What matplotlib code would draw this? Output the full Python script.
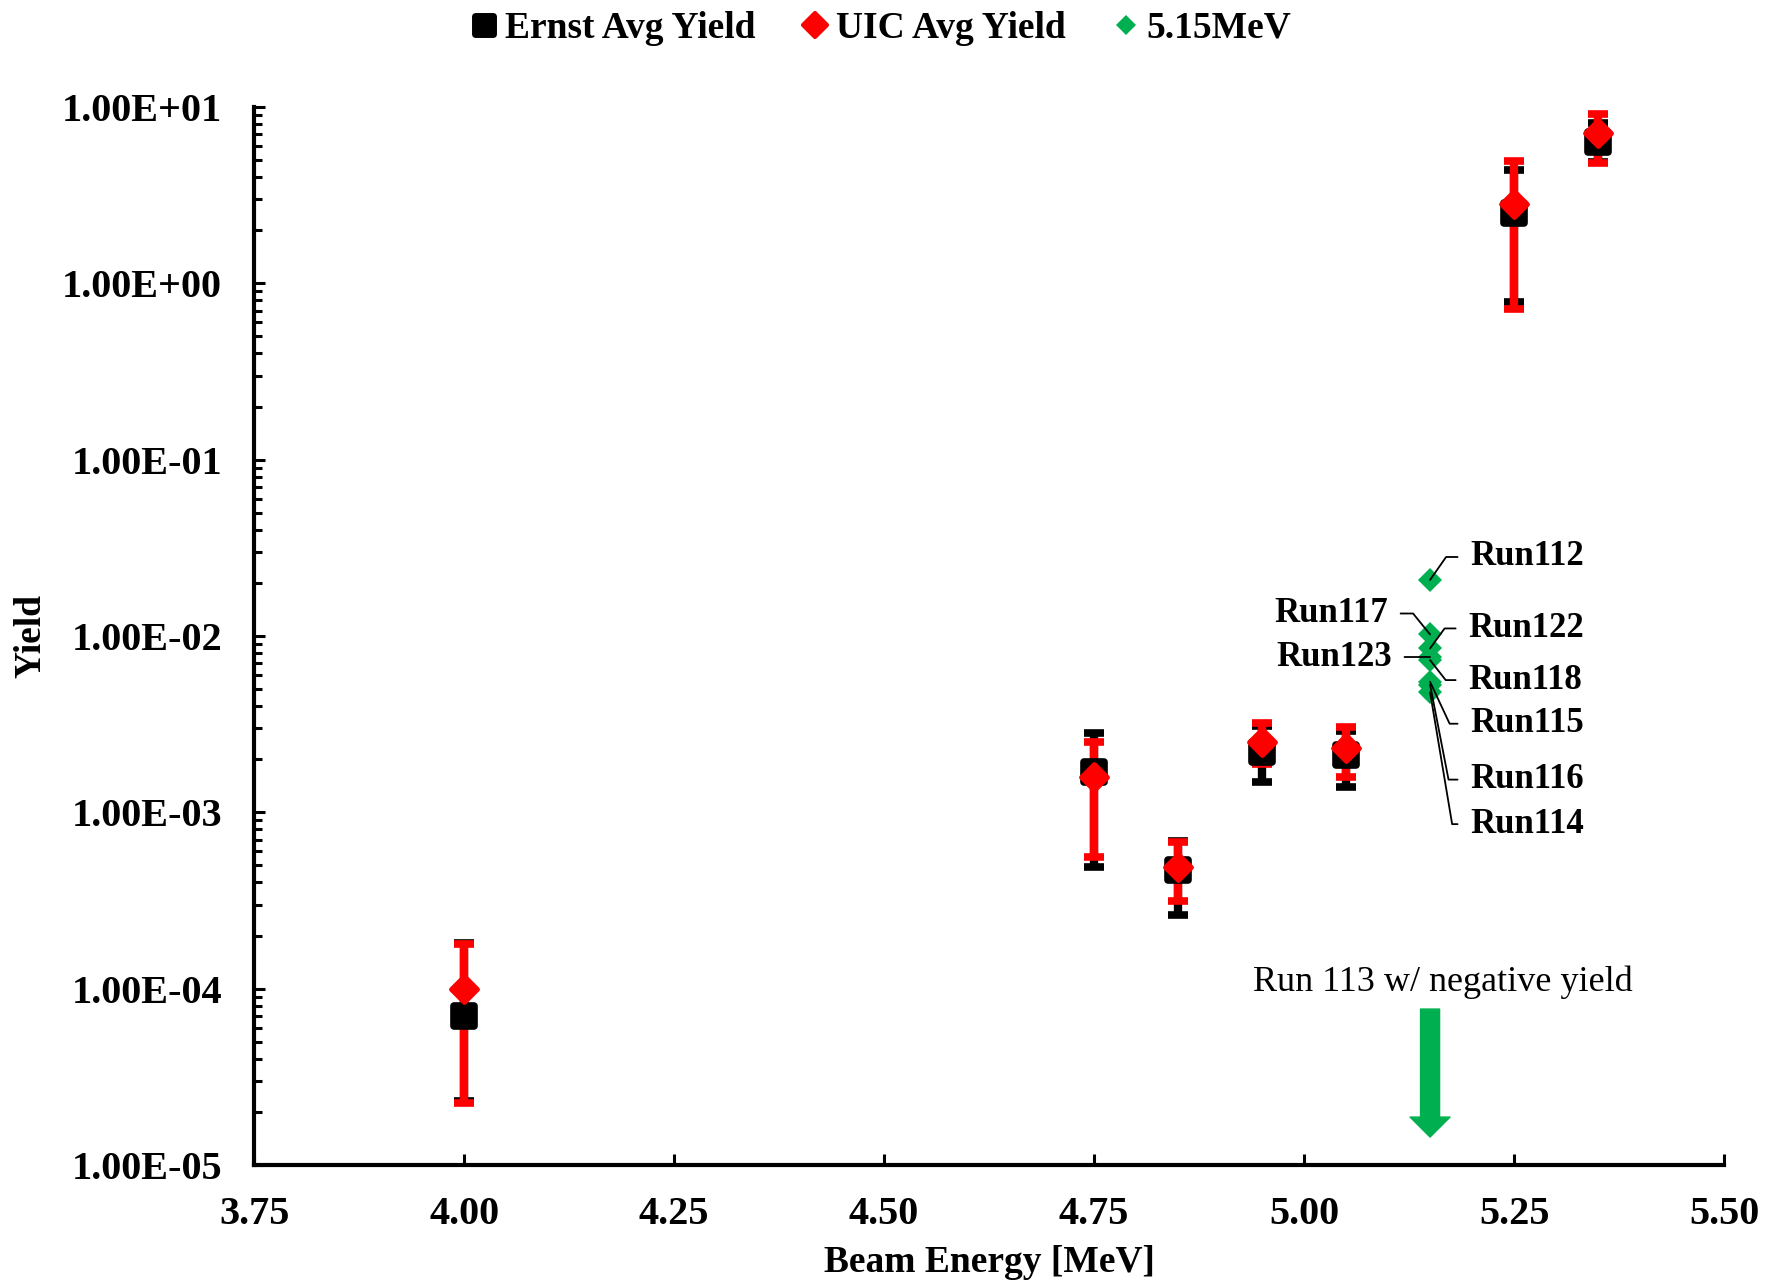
import numpy as np
import matplotlib
matplotlib.use("Agg")
import matplotlib.pyplot as plt
from matplotlib.lines import Line2D
from matplotlib.markers import MarkerStyle
from matplotlib.ticker import LogLocator, FuncFormatter, NullFormatter, MultipleLocator

plt.rcParams["font.family"] = ["Liberation Serif", "DejaVu Serif"]
plt.rcParams["font.weight"] = "bold"

# beam energies [MeV]
energy = [4.00, 4.75, 4.85, 4.95, 5.05, 5.25, 5.35]

# Ernst average yield with error bar ends
ernst = [7.0e-5, 1.69e-3, 4.7e-4, 2.19e-3, 2.11e-3, 2.51, 6.33]
ernst_hi = [1.82e-4, 2.81e-3, 6.9e-4, 3.1e-3, 2.9e-3, 4.4, 8.1]
ernst_lo = [2.3e-5, 4.89e-4, 2.61e-4, 1.48e-3, 1.39e-3, 0.78, 4.85]

# UIC average yield with error bar ends
uic = [1.0e-4, 1.58e-3, 4.89e-4, 2.5e-3, 2.31e-3, 2.82, 7.13]
uic_hi = [1.79e-4, 2.5e-3, 6.78e-4, 3.2e-3, 3.04e-3, 4.94, 9.13]
uic_lo = [2.24e-5, 5.57e-4, 3.13e-4, 1.87e-3, 1.58e-3, 0.714, 4.8]

# individual runs at 5.15 MeV
run_energy = 5.15
run_names = ["Run112", "Run117", "Run122", "Run123", "Run118", "Run115", "Run116", "Run114"]
run_yield = [2.08e-2, 1.02e-2, 8.5e-3, 7.6e-3, 7.3e-3, 5.5e-3, 5.3e-3, 4.8e-3]

BLACK = "#000000"
RED = "#FF0000"
GREEN = "#00B050"

fig = plt.figure(figsize=(17.73, 12.86), dpi=100)
ax = fig.add_axes([0.1433, 0.0941, 0.8291, 0.8227])


def err(vals, lo, hi):
    v = np.array(vals)
    return np.vstack([v - np.array(lo), np.array(hi) - v])


# capsize is half the cap length in matplotlib
eb_kw = dict(fmt="none", elinewidth=6, capsize=7.4, capthick=5.5, zorder=2)
ax.errorbar(energy, ernst, yerr=err(ernst, ernst_lo, ernst_hi), ecolor=BLACK, **eb_kw)
ax.errorbar(energy, uic, yerr=err(uic, uic_lo, uic_hi), ecolor=RED, **eb_kw)

sq = MarkerStyle("s", joinstyle="round")
dm = MarkerStyle("D", joinstyle="round")
ax.plot(energy, ernst, ls="none", marker=sq, ms=14, mfc=BLACK, mec=BLACK, mew=5.5, zorder=3)
ax.plot(energy, uic, ls="none", marker=dm, ms=13, mfc=RED, mec=RED, mew=3.5, zorder=4)
ax.plot([run_energy] * len(run_yield), run_yield, ls="none", marker="D", ms=12.5,
        mfc=GREEN, mec=GREEN, mew=0, zorder=5)

# run labels with leader lines: (dx, dy) in points, ha, leader angle
label_layout = {
    "Run112": (28.8, 16.5, "left", 55),
    "Run117": (-30.2, 15.1, "right", -51),
    "Run122": (27.4, 14.4, "left", 54),
    "Run123": (-27.4, 0.0, "right", None),
    "Run118": (27.4, -14.4, "left", -52),
    "Run115": (28.8, -30.2, "left", -65),
    "Run116": (28.8, -68.4, "left", -79),
    "Run114": (28.8, -95.0, "left", -80.5),
}
for name, val in zip(run_names, run_yield):
    dx, dy, ha, ang = label_layout[name]
    if ang is None:
        cs = "arc3,rad=0"
    else:
        cs = f"angle,angleA=0,angleB={ang},rad=0"
    ax.annotate(name, xy=(run_energy, val), xytext=(dx, dy), textcoords="offset points",
                ha=ha, va="center", fontsize=25, fontweight="bold", zorder=6,
                arrowprops=dict(arrowstyle="-", color=BLACK, lw=1.3, shrinkA=7, shrinkB=0,
                                connectionstyle=cs))

# negative-yield note with arrow
ax.text(5.165, 1.09e-4, "Run 113 w/ negative yield", ha="center", va="center",
        fontsize=26, fontweight="normal")
ax.annotate("", xy=(run_energy, 1.44e-5), xytext=(run_energy, 7.66e-5),
            arrowprops=dict(arrowstyle="simple,head_length=1.05,head_width=2.1,tail_width=1",
                            mutation_scale=13.7, color=GREEN, shrinkA=0, shrinkB=0))

ax.set_yscale("log")
ax.set_xlim(3.75, 5.5)
ax.set_ylim(1e-5, 10)
ax.xaxis.set_major_locator(MultipleLocator(0.25))
ax.xaxis.set_major_formatter(FuncFormatter(lambda v, p: f"{v:.2f}"))
ax.yaxis.set_major_locator(LogLocator(base=10, numticks=20))
ax.yaxis.set_minor_locator(LogLocator(base=10, subs=np.arange(2, 10), numticks=20))
ax.yaxis.set_major_formatter(FuncFormatter(lambda v, p: f"{v:.2E}"))
ax.yaxis.set_minor_formatter(NullFormatter())

for side in ["top", "right"]:
    ax.spines[side].set_visible(False)
for side in ["left", "bottom"]:
    ax.spines[side].set_linewidth(3)

ax.tick_params(axis="both", which="major", direction="in", length=8, width=2.2, labelsize=29)
ax.tick_params(axis="y", which="minor", direction="in", length=5.5, width=2.2)
ax.tick_params(axis="x", which="major", pad=22)
ax.tick_params(axis="y", which="major", pad=23)

ax.set_xlabel("Beam Energy [MeV]", fontsize=27, fontweight="bold")
ax.set_ylabel("Yield", fontsize=27, fontweight="bold")
ax.xaxis.set_label_coords(0.5, -0.0926)
ax.xaxis.label.set_va("center")
ax.yaxis.set_label_coords(-0.1515, 0.5)
ax.yaxis.label.set_va("center")

handles = [
    Line2D([], [], ls="none", marker=sq, ms=12.5, mfc=BLACK, mec=BLACK, mew=5),
    Line2D([], [], ls="none", marker=dm, ms=12, mfc=RED, mec=RED, mew=3),
    Line2D([], [], ls="none", marker="D", ms=10, mfc=GREEN, mec=GREEN, mew=0),
]
fig.legend(handles, ["Ernst Avg Yield", "UIC Avg Yield", "5.15MeV"], loc="center",
           bbox_to_anchor=(0.4963, 0.978), ncol=3, frameon=False, fontsize=27,
           handlelength=0.8, handletextpad=0.15, columnspacing=1.2, borderpad=0,
           borderaxespad=0)

fig.savefig("out.png", dpi=100, facecolor="white")
